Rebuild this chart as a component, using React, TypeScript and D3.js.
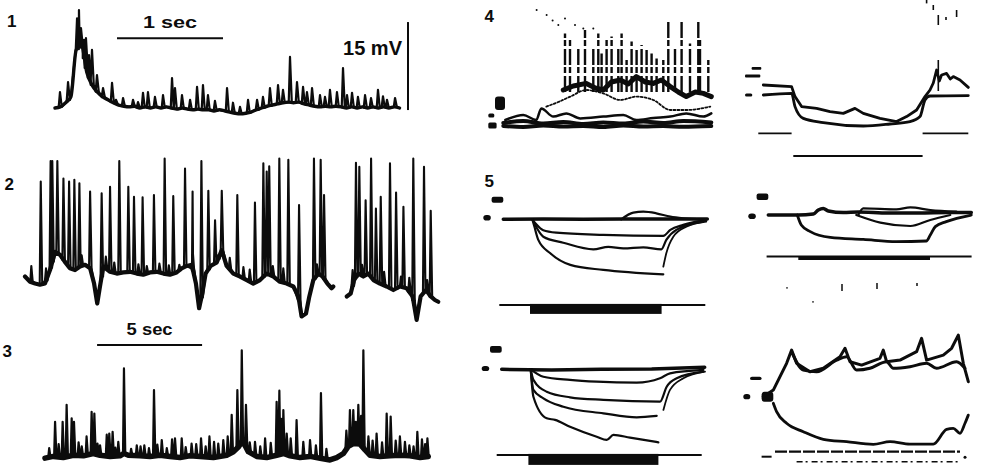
import React from 'react';
import * as d3 from 'd3';

type Pt = [number, number];

const INK = '#0c0c0c';
const FONT = '"Liberation Sans", Arial, Helvetica, sans-serif';

// ---------- trace 1 (1 sec / 15 mV), sampled every 50 ms, mV
const p1Dt = 0.05;
const p1Base = [
  0, 0.2, 0.9, 1.9, 9.9, 10.7, 6.1, 3.9, 2.7, 1.9,
  1.4, 0.9, 0.5, 0.3, 0.2, 0.3, 0, 0.2, 0, 0.2,
  0, 0.2, 0, -0.2, 0, -0.2, -0.3, -0.2, -0.3, -0.3,
  -0.5, -0.3, -0.5, -0.7, -0.9, -1.0, -0.9, -0.7, -0.3, 0,
  0.3, 0.5, 0.7, 0.9, 1.0, 0.9, 1.0, 0.7, 0.5, 0.3,
  0.2, 0.3, 0.2, 0.3, 0.2, 0, 0.2, 0, 0.2, 0,
  0.2, 0, 0.2, 0, 0.2, 0,
];
const p1SpikeT = [
  0.047, 0.123, 0.208, 0.226, 0.245, 0.274, 0.292, 0.321, 0.349, 0.396, 0.453, 0.538, 0.575,
  0.642, 0.736, 0.783, 0.83, 0.877, 0.943, 1.019, 1.104, 1.132, 1.198, 1.274, 1.34, 1.396,
  1.443, 1.509, 1.623, 1.679, 1.745, 1.821, 1.906, 1.962, 2.028, 2.104, 2.151, 2.217, 2.283,
  2.34, 2.377, 2.425, 2.5, 2.547, 2.594, 2.66, 2.717, 2.755, 2.802, 2.858, 2.925, 2.981,
  3.047, 3.094, 3.132, 3.208,
];
const p1SpikeV = [
  2.7, 4.4, 15.3, 16.7, 13.6, 11.6, 11.9, 9.0, 9.9, 5.6, 3.4, 4.3, 1.4,
  1.7, 1.4, 1.0, 2.6, 2.7, 1.9, 2.2, 5.1, 3.4, 2.2, 1.4, 3.6, 3.9,
  2.2, 1.2, 3.4, 0.9, 0.2, 1.4, 1.4, 1.9, 3.4, 3.9, 3.1, 8.7, 4.4,
  3.6, 2.7, 3.4, 2.2, 1.9, 3.1, 2.7, 6.8, 2.2, 2.6, 1.9, 2.2, 1.7,
  3.1, 2.0, 1.4, 1.7,
];

// ---------- trace 2, two records (s, mV)
const p2aT = [
  0, 0.24, 0.48, 0.71, 0.95, 1.19, 1.43, 1.67, 1.9, 2.14, 2.38, 2.62, 2.86, 3.1, 3.29,
  3.44, 3.57, 3.73, 4.05, 4.37, 4.68, 5.0, 5.32, 5.63, 5.95, 6.27, 6.59, 6.9, 7.22, 7.46,
  7.7, 7.94, 8.14, 8.29, 8.44, 8.6, 8.84, 9.13, 9.37, 9.6, 9.92, 10.24, 10.56, 10.87, 11.19,
  11.51, 11.83, 12.14, 12.46, 12.78, 13.02, 13.17, 13.38, 13.54, 13.73, 13.97, 14.17, 14.4, 14.6, 14.68,
];
const p2aV = [
  -0.6, -1.5, -1.8, -2.0, -1.8, 0.5, 3.6, 3.1, 1.9, 0.8, 0.5, 1.1, 1.4, 0.8, -1.8,
  -5.2, -2.3, 1.1, 0.2, -0.1, 0.1, 0.2, -0.1, -0.3, 0.1, 0.2, -0.1, -0.3, 0.1, 0.8,
  1.2, 1.4, -1.8, -6.0, -3.5, -0.1, 1.2, 1.8, 3.9, 1.2, -0.1, -0.6, -1.2, -1.8, -1.2,
  -0.1, -0.6, -1.5, -1.8, -2.3, -4.0, -7.4, -6.9, -4.0, -1.2, -0.1, -0.6, -1.8, -2.6, -2.3,
];
const p2bT = [15.32, 15.51, 15.67, 15.87, 16.11, 16.35, 16.59, 16.9, 17.22, 17.54, 17.86, 18.17, 18.46, 18.65, 18.84, 19.1, 19.32, 19.52, 19.68];
const p2bV = [-4.0, -3.5, -1.2, -0.1, -0.6, -0.1, -1.2, -1.8, -2.3, -2.9, -2.3, -2.6, -4.0, -8.0, -4.0, -2.9, -4.0, -4.6, -4.9];
const p2SpikeT = [
  0.75, 1.22, 1.3, 1.54, 1.83, 2.1, 2.35, 2.59, 3.1, 3.65, 4.05, 4.49, 4.92, 5.19, 5.6,
  6.14, 6.65, 7.06, 7.62, 7.98, 8.4, 8.73, 9.05, 9.37, 10.11, 10.95, 11.35, 11.51, 11.63, 12.11,
  12.54, 13.05, 13.76, 14.08, 14.24, 15.76, 15.92, 16.22, 16.48, 16.71, 16.94, 17.38, 17.67, 18.02, 18.49,
  19.0, 19.32,
];
const p2SpikeV = [
  15.6, 19.1, 19.1, 19.1, 16.1, 15.6, 15.9, 15.3, 13.9, 13.6, 14.7, 19.1, 14.7, 13.0, 12.9,
  13.3, 19.5, 13.1, 17.8, 13.9, 19.1, 14.0, 9.0, 14.0, 13.3, 12.0, 18.7, 17.3, 18.2, 19.5,
  19.3, 11.6, 19.5, 19.3, 13.3, 18.8, 18.1, 12.4, 19.5, 11.0, 13.0, 18.7, 13.7, 11.3, 19.5,
  18.1, 10.6,
];
// small deflections riding on trace 2
const p2SmallT = [0.3, 1.0, 2.7, 3.85, 4.25, 5.4, 5.8, 6.4, 6.85, 7.35, 8.0, 9.2, 9.75, 10.4, 10.7, 11.8, 12.3, 13.9, 15.6, 16.05, 17.1, 17.9, 18.3, 19.15];
const p2SmallV = [1.2, 0.8, 3.0, 2.8, 1.8, 1.5, 1.2, 1.6, 1.3, 1.4, 3.2, 3.0, 2.6, 1.0, 0.6, 1.2, 0.8, 1.5, 0.5, 1.4, 0.2, -0.6, -0.8, -1.2];

// ---------- trace 3 (5 sec)
const p3T = [
  0, 0.4, 0.87, 1.35, 1.83, 2.3, 2.62, 3.1, 3.57, 3.76, 3.97, 4.52, 5.0, 5.48, 5.95,
  6.43, 6.9, 7.38, 8.02, 8.65, 8.97, 9.21, 9.37, 9.52, 9.68, 10.08, 10.56, 11.03, 11.35, 11.67,
  12.14, 12.62, 13.1, 13.57, 13.89, 14.21, 14.44, 14.68, 15.0, 15.24, 15.48, 15.95, 16.43, 16.9, 17.38,
  17.86, 18.25,
];
const p3V = [
  -0.2, 0.1, -0.1, 0.3, 0.2, 0.6, 0.3, 0.1, 0.2, 0.6, 0.3, 0.2, 0.1, 0.3, 0.1,
  -0.1, 0.2, 0.1, -0.1, 0.3, 0.9, 1.7, 2.6, 2.0, 0.9, 0.1, -0.1, 0.3, 0.6, 0.2,
  -0.1, 0.1, -0.2, -0.5, -0.1, 0.6, 1.8, 2.3, 2.2, 1.2, 0.3, 0.1, 0.2, 0.3, 0.2,
  -0.1, 0.1,
];
const p3SpikeT = [
  0.48, 0.84, 1.03, 1.27, 1.38, 1.98, 2.22, 2.35, 2.62, 2.94, 3.06, 3.22, 3.49, 3.76, 4.37,
  4.73, 5.19, 5.56, 6.19, 6.51, 6.98, 7.43, 7.83, 8.25, 8.49, 8.89, 9.16, 9.37, 9.57, 10.0,
  10.48, 11.03, 11.16, 11.35, 11.51, 11.98, 12.62, 13.14, 14.52, 14.68, 14.92, 15.16, 15.79, 16.27, 16.46,
  16.9, 17.14, 17.73, 18.21,
];
const p3SpikeV = [
  6.0, 6.0, 8.9, 6.6, 6.0, 3.5, 7.7, 7.4, 2.0, 3.8, 4.0, 4.3, 2.6, 15.1, 2.0,
  2.0, 11.4, 2.9, 3.2, 3.2, 2.3, 3.2, 3.5, 2.3, 2.9, 7.2, 11.4, 18.2, 8.9, 2.6,
  3.2, 9.4, 11.3, 8.0, 4.0, 6.3, 2.9, 10.9, 8.0, 8.0, 8.9, 18.2, 4.0, 7.4, 6.9,
  3.5, 2.6, 4.3, 3.2,
];
const p3SmallT = [0.2, 0.65, 1.6, 1.75, 2.5, 3.35, 4.1, 4.55, 4.95, 5.35, 5.8, 6.05, 6.7, 7.2, 7.65, 8.05, 8.7, 9.75, 10.25, 10.75, 11.25, 11.7, 12.3, 12.9, 13.4, 14.35, 14.8, 15.05, 15.4, 15.6, 16.05, 16.7, 17.35, 17.55, 17.95, 18.1];
const p3SmallV = [1.5, 2.2, 2.5, 1.8, 2.3, 1.6, 1.4, 1.8, 1.5, 2.1, 1.5, 3.0, 1.7, 2.2, 1.8, 2.6, 3.5, 2.5, 1.8, 2.4, 6.5, 3.2, 2.6, 2.0, 1.4, 4.5, 6.0, 7.0, 3.5, 2.8, 2.5, 2.8, 2.0, 1.8, 3.0, 2.2];

// ---------- 4, left (ms, mV)
const p4lBotT = [0, 20, 40, 60, 80, 100, 120, 140, 160, 180, 208];
const p4lBotAV = [1.5, 2.5, 1.2, 2, 1, 1.8, 1.2, 2.2, 1.5, 2.5, 1.8];
const p4lBotBV = [0, -0.5, 0.2, -0.3, 0, -0.5, 0.3, -0.2, 0, -0.4, 0];
const p4lMidT = [2, 20, 33, 38, 50, 63, 77, 100, 120, 133, 150, 167, 183, 200, 208];
const p4lMidV = [3, 5.5, 3, 8.8, 4.7, 6.3, 3.8, 4.7, 5.5, 3, 4, 4.7, 6.3, 4.7, 6.3];
const p4lUpT = [43, 55, 67, 83, 100, 117, 133, 150, 167, 183, 207];
const p4lUpV = [9.7, 12, 14.7, 18, 16.3, 13, 14.7, 13, 8, 8, 9.7];
const p4lTopT = [60, 70, 83, 92, 100, 108, 117, 125, 133, 142, 150, 158, 167, 175, 183, 192, 200, 208];
const p4lTopV = [18, 20, 21.3, 19, 18, 22, 23, 21, 24.7, 22, 21.3, 23, 19.7, 17, 14.7, 17, 16.3, 14.7];
const p4lSpikeT = [61.7, 66.7, 75, 81.7, 90, 95, 98.3, 103.3, 108.3, 115, 118.3, 123.3, 128.3, 133.3, 138.3, 143.3, 148.3, 153.3, 160, 165, 171.7, 178.3, 186.7, 195, 196.7, 205];
const p4lSpikeV = [46.3, 43, 39.7, 48, 39.7, 46.3, 36.3, 43, 44.7, 39.7, 46.3, 33, 42.2, 38, 40.5, 38, 36.3, 33.8, 33, 53, 39.7, 52.2, 41.3, 52.2, 43, 33];
const p4lDotT = [33.3, 43.3, 49.3, 55, 61.7, 71.7, 80, 90];
const p4lDotV = [58, 55.5, 52.7, 50.5, 53.8, 50.5, 48.8, 48.8];

// ---------- 4, right
const p4rUpT = [0, 28.3, 31.7, 38.3, 53.3, 66.7, 80, 91.7, 100, 116.7, 133.3, 143.3, 153.3, 161.7, 166.7, 170, 173.3, 176, 178.3, 183.3, 187, 190, 196.7, 205];
const p4rUpV = [5, 4.2, -0.8, -5.8, -6.7, -8.3, -9.2, -6.7, -9.2, -11.7, -13.3, -10.8, -7.5, -0.8, 2.5, 6, 12.5, 7, 10, 10.8, 8, 9.2, 7.5, 3.8];
const p4rLowT = [0, 28.3, 31.7, 40, 60, 100, 126.7, 146.7, 156.7, 161.7, 166.7, 205];
const p4rLowV = [0, 0.8, -5.8, -11.7, -13.8, -15.5, -14.5, -13.3, -10.8, -2.5, -0.5, -0.3];
const p4rTickT = [163.3, 170, 175, 182.7, 193.3];
const p4rTickHi = [47.5, 45, 40, 39, 42.5];
const p4rTickLo = [45.8, 42.5, 35, 37.5, 39];

// ---------- 5, left
const p5lBaseT = [0, 40, 80, 120, 160, 204];
const p5lBaseV = [0, 0.2, 0, 0.2, 0.1, 0.2];
const p5lBumpT = [118, 130, 140, 153, 167, 180, 200];
const p5lBumpV = [0, 3.3, 3.8, 3.0, 1.3, 0.5, 0];
const p5lAT = [29, 33, 40, 53, 100, 160, 167, 180, 203];
const p5lAV = [0, -2.5, -5.5, -6.7, -7.8, -8.3, -5.3, -2.8, -0.3];
const p5lBT = [29, 32, 40, 60, 90, 105, 120, 140, 158, 163, 173, 200];
const p5lBV = [0, -3, -8.7, -11.7, -15, -13.8, -14.5, -14, -15, -10.3, -5.3, -1.2];
const p5lCT = [29, 31, 35, 47, 67, 100, 160];
const p5lCV = [0, -3.5, -10.3, -17, -22.8, -25.3, -27.5];
const p5lCRecT = [160, 163, 170, 183, 203];
const p5lCRecV = [-23.7, -17, -8.7, -3.7, -1.2];

// ---------- 5, right
const p5rBaseT = [0, 30, 45, 50, 55, 60, 75, 90, 120, 150, 180, 203];
const p5rBaseV = [0, 0, 0.5, 2.5, 3.3, 2.0, 1.2, 1.5, 1.0, 1.0, 1.2, 1.2];
const p5rHypT = [29, 33, 42, 62, 95, 128, 158, 162, 167, 178, 203];
const p5rHypV = [0, -5, -8.3, -11.2, -12.2, -13.3, -13, -10, -5.8, -3.3, 0];
const p5rMidT = [88, 112, 142, 162, 182];
const p5rMidV = [0, -3.8, -5.5, -2.5, 0];
const p5rUpT = [90, 95, 128, 142, 162, 188];
const p5rUpV = [0, 3.3, 2.8, 3.8, 2.5, 1.7];

// ---------- lower left
const p6lBaseT = [0, 50, 100, 150, 203];
const p6lBaseV = [0, -0.3, 0, 0.2, 1];
const p6lAT = [29, 41.7, 68.3, 95, 135, 158.3, 168.3, 201.7];
const p6lAV = [0, -3.7, -5.3, -6.2, -6.7, -4.5, -2, -0.3];
const p6lBT = [29, 31.7, 45, 68.3, 101.7, 158.3, 165, 175, 201.7];
const p6lBV = [0, -5.3, -11.2, -14, -15.3, -16.2, -8.7, -4.5, -1.2];
const p6lCT = [29, 31.7, 41.7, 61.7, 101.7, 135, 155];
const p6lCV = [0, -10.3, -14.5, -18.7, -22, -24, -23.3];
const p6lCRecT = [161.7, 168.3, 181.7, 203.3];
const p6lCRecV = [-20.3, -10.3, -4.5, -1.2];
const p6lDT = [29, 31.7, 45, 53.3, 68.3, 95, 105, 111.7, 128.3, 156.7];
const p6lDV = [0, -13.7, -24.5, -25.3, -28.7, -33.7, -35.3, -32.8, -34.2, -36.5];

// ---------- lower right
const p6rAT = [-10, 0, 6.7, 13.3, 18.3, 23.3, 36.7, 50, 66.7, 71.7, 76.7, 88.3, 106.7, 110, 113.3, 126.7, 143.3, 148.3, 153.3, 170, 178.3, 185, 190, 195];
const p6rAV = [0, 3.3, 10, 16.7, 23.3, 16.7, 12.5, 14.2, 20, 24.2, 17.5, 15.8, 19.2, 23.3, 17.5, 18.3, 22.5, 29.2, 18.3, 20.8, 24.2, 30.8, 16.7, 7.5];
const p6rBT = [18.3, 30, 43.3, 63.3, 73.3, 83.3, 96.7, 113.3, 120, 136.7, 153.3, 163.3, 183.3, 191.7];
const p6rBV = [22.5, 13.3, 12.5, 18.3, 20, 13.3, 14.2, 17.5, 14.2, 15, 16.7, 14.2, 17.5, 14.2];
const p6rLowT = [0, 3.3, 13.3, 30, 50, 73.3, 100, 116.7, 136.7, 160, 173.3, 180, 186.7, 191.7, 195];
const p6rLowV = [-3.3, -7.5, -13.3, -17.5, -21.3, -22.5, -23.8, -22.5, -23.7, -23.7, -16.3, -15.8, -18.3, -13.3, -9.2];
const p6rTickT = [68.7, 103.7, 143.7];
const p6rTickHi = [56.4, 56.9, 56.9];
const p6rTickLo = [52.9, 53.9, 55.4];

const zip = (t: number[], v: number[]): Pt[] => t.map((ti, i) => [ti, v[i]]);

function withSpikes(pts: Pt[], st: number[], sv: number[], hw: number): Pt[] {
  const base = d3.scaleLinear().domain(pts.map(p => p[0])).range(pts.map(p => p[1]));
  const lo = pts[0][0];
  const hi = pts[pts.length - 1][0];
  const out: Pt[] = pts.filter(p => !st.some(s => Math.abs(p[0] - s) < hw * 1.5));
  st.forEach((s, i) => {
    if (s < lo || s > hi) return;
    const b = base(s);
    out.push([s - hw, b], [s, Math.max(sv[i], b + 0.4)], [s + hw * 1.4, b]);
  });
  return out.sort((a, b) => a[0] - b[0]);
}

type Sc = d3.ScaleLinear<number, number>;

function Trace({ pts, xs, ys, w = 2, dash, curve }: { pts: Pt[]; xs: Sc; ys: Sc; w?: number; dash?: string; curve?: d3.CurveFactory }) {
  const gen = d3.line<Pt>().x(p => xs(p[0])).y(p => ys(p[1])).curve(curve ?? d3.curveLinear);
  return (
    <path d={gen(pts) ?? ''} fill="none" stroke={INK} strokeWidth={w}
      strokeLinejoin="round" strokeLinecap="round" strokeDasharray={dash} />
  );
}

function Blob({ xs, ys, t0, t1, v0, v1, r = 2 }: { xs: Sc; ys: Sc; t0: number; t1: number; v0: number; v1: number; r?: number }) {
  return <rect x={xs(t0)} y={ys(v0)} width={xs(t1) - xs(t0)} height={ys(v1) - ys(v0)} rx={r} fill={INK} />;
}

function panelScales(x0: number, y0: number) {
  return {
    xs: d3.scaleLinear().domain([0, 100]).range([x0, x0 + 100]),
    ys: d3.scaleLinear().domain([0, 10]).range([y0, y0 - 20]),
  };
}

const labelStyle = { fontFamily: FONT, fontWeight: 700, fontSize: 17, fill: INK } as const;

export default function App() {
  const x1 = d3.scaleLinear().domain([0, 1]).range([55, 161]);
  const y1 = d3.scaleLinear().domain([0, 15]).range([108, 20]);
  const x2 = d3.scaleLinear().domain([0, 5]).range([25, 130]);
  const y2 = d3.scaleLinear().domain([0, 15]).range([273, 185]);
  const x3 = d3.scaleLinear().domain([0, 5]).range([45, 150]);
  const y3 = d3.scaleLinear().domain([0, 15]).range([457, 369]);

  const p1 = p1Base.map((v, i) => [i * p1Dt, v] as Pt);
  const p2a = zip(p2aT, p2aV);
  const p2b = zip(p2bT, p2bV);
  const p2St = p2SpikeT.concat(p2SmallT);
  const p2Sv = p2SpikeV.concat(p2SmallV);
  const p3 = zip(p3T, p3V);
  const p3St = p3SpikeT.concat(p3SmallT);
  const p3Sv = p3SpikeV.concat(p3SmallV);

  const s4l = panelScales(503.3, 126);
  const s4r = panelScales(763.3, 95);
  const s5l = panelScales(503.3, 219.3);
  const s5r = panelScales(768.3, 215);
  const s6l = panelScales(501.7, 369.3);
  const s6r = panelScales(773.3, 396.7);
  const smooth = d3.curveMonotoneX;

  return (
    <svg width={993} height={470} viewBox="0 0 993 470"
      style={{ position: 'absolute', left: 0, top: 0, display: 'block', background: '#fff' }}>
      <rect width={993} height={470} fill="#fff" />

      {/* ---- record 1 ---- */}
      <text x={7} y={27} style={labelStyle}>1</text>
      <Trace pts={p1} xs={x1} ys={y1} w={3.4} curve={smooth} />
      <Trace pts={withSpikes(p1, p1SpikeT, p1SpikeV, 0.012)} xs={x1} ys={y1} w={2.2} />
      <line x1={x1(0.585)} x2={x1(1.585)} y1={y1(11.9)} y2={y1(11.9)} stroke={INK} strokeWidth={2} />
      <text x={x1(1.085)} y={28} textAnchor="middle" textLength={54} lengthAdjust="spacingAndGlyphs"
        style={{ ...labelStyle, fontSize: 16 }}>1 sec</text>
      <line x1={x1(3.33)} x2={x1(3.33)} y1={y1(-0.35)} y2={y1(14.65)} stroke={INK} strokeWidth={2} />
      <text x={402} y={55} textAnchor="end" textLength={59} lengthAdjust="spacingAndGlyphs"
        style={{ ...labelStyle, fontSize: 20 }}>15 mV</text>

      {/* ---- record 2 ---- */}
      <text x={4.5} y={190} style={labelStyle}>2</text>
      <Trace pts={p2a} xs={x2} ys={y2} w={4.2} />
      <Trace pts={p2b} xs={x2} ys={y2} w={4.2} />
      <Trace pts={withSpikes(p2a, p2St, p2Sv, 0.05)} xs={x2} ys={y2} w={2.1} />
      <Trace pts={withSpikes(p2b, p2St, p2Sv, 0.05)} xs={x2} ys={y2} w={2.1} />

      {/* ---- record 3 ---- */}
      <text x={2.5} y={357} style={labelStyle}>3</text>
      <line x1={x3(2.48)} x2={x3(7.48)} y1={y3(19.1)} y2={y3(19.1)} stroke={INK} strokeWidth={2} />
      <text x={x3(4.98)} y={335} textAnchor="middle" textLength={46} lengthAdjust="spacingAndGlyphs"
        style={{ ...labelStyle, fontSize: 16 }}>5 sec</text>
      <Trace pts={p3} xs={x3} ys={y3} w={5.5} />
      <Trace pts={withSpikes(p3, p3St, p3Sv, 0.045)} xs={x3} ys={y3} w={2.2} />

      {/* ---- 4 left ---- */}
      <text x={484.5} y={22} style={labelStyle}>4</text>
      <Blob {...s4l} t0={-8.3} t1={1.7} v0={14.7} v1={8} r={3} />
      <Blob {...s4l} t0={-15} t1={-9} v0={6.3} v1={4.3} r={1.5} />
      <Blob {...s4l} t0={-15} t1={-6.7} v0={1.7} v1={-1.2} r={1.5} />
      <Trace pts={zip(p4lBotT, p4lBotAV)} {...s4l} w={4} curve={smooth} />
      <Trace pts={zip(p4lBotT, p4lBotBV)} {...s4l} w={4} curve={smooth} />
      <Trace pts={zip(p4lMidT, p4lMidV)} {...s4l} w={2.5} curve={smooth} />
      <Trace pts={zip(p4lUpT, p4lUpV)} {...s4l} w={1.8} dash="2 2" curve={smooth} />
      <Trace pts={zip(p4lTopT, p4lTopV)} {...s4l} w={5} />
      {p4lSpikeT.map((t, i) => (
        <line key={`s4-${i}`} x1={s4l.xs(t)} x2={s4l.xs(t)} y1={s4l.ys(17)} y2={s4l.ys(p4lSpikeV[i])}
          stroke={INK} strokeWidth={2.4} strokeDasharray="16 3 6 2" />
      ))}
      {p4lDotT.map((t, i) => (
        <circle key={`d4-${i}`} cx={s4l.xs(t)} cy={s4l.ys(p4lDotV[i])} r={1} fill={INK} />
      ))}

      {/* ---- 4 right ---- */}
      <Blob {...s4r} t0={-18.3} t1={-3} v0={10.2} v1={8.8} r={1} />
      <Blob {...s4r} t0={-11.7} t1={-2} v0={14} v1={12.6} r={1} />
      <Blob {...s4r} t0={-18.3} t1={-11} v0={0.8} v1={-0.8} r={1.5} />
      <Trace pts={zip(p4rUpT, p4rUpV)} {...s4r} w={2.8} />
      <Trace pts={zip(p4rLowT, p4rLowV)} {...s4r} w={2.8} curve={smooth} />
      <line x1={s4r.xs(175)} x2={s4r.xs(175)} y1={s4r.ys(2)} y2={s4r.ys(17.5)} stroke={INK} strokeWidth={1.6} />
      {p4rTickT.map((t, i) => (
        <line key={`t4-${i}`} x1={s4r.xs(t)} x2={s4r.xs(t)} y1={s4r.ys(p4rTickHi[i])} y2={s4r.ys(p4rTickLo[i])}
          stroke={INK} strokeWidth={1.6} />
      ))}
      <line x1={s4r.xs(-5)} x2={s4r.xs(28.3)} y1={s4r.ys(-19.2)} y2={s4r.ys(-19.2)} stroke={INK} strokeWidth={1.8} />
      <line x1={s4r.xs(159.3)} x2={s4r.xs(205)} y1={s4r.ys(-19.2)} y2={s4r.ys(-19.2)} stroke={INK} strokeWidth={1.8} />
      <line x1={s4r.xs(30)} x2={s4r.xs(159.3)} y1={s4r.ys(-30.5)} y2={s4r.ys(-30.5)} stroke={INK} strokeWidth={1.8} />

      {/* ---- 5 left ---- */}
      <text x={484.5} y={187} style={labelStyle}>5</text>
      <Blob {...s5l} t0={-11.7} t1={0} v0={11.3} v1={8.3} r={2} />
      <Blob {...s5l} t0={-20} t1={-12.5} v0={2.2} v1={-0.6} r={3} />
      <Trace pts={zip(p5lBaseT, p5lBaseV)} {...s5l} w={3.5} />
      <Trace pts={zip(p5lBumpT, p5lBumpV)} {...s5l} w={2.2} curve={smooth} />
      <Trace pts={zip(p5lAT, p5lAV)} {...s5l} w={2.2} curve={smooth} />
      <Trace pts={zip(p5lBT, p5lBV)} {...s5l} w={2.2} curve={smooth} />
      <Trace pts={zip(p5lCT, p5lCV)} {...s5l} w={2.2} curve={smooth} />
      <Trace pts={zip(p5lCRecT, p5lCRecV)} {...s5l} w={1.8} curve={smooth} />
      <line x1={s5l.xs(-4)} x2={s5l.xs(202)} y1={s5l.ys(-42.8)} y2={s5l.ys(-42.8)} stroke={INK} strokeWidth={2} />
      <Blob {...s5l} t0={26.7} t1={158.3} v0={-42.3} v1={-47.3} r={0} />

      {/* ---- 5 right ---- */}
      <Blob {...s5r} t0={-11.7} t1={0} v0={10.8} v1={7.5} r={2} />
      <Blob {...s5r} t0={-20} t1={-12.5} v0={0.8} v1={-2} r={3} />
      <Trace pts={zip(p5rBaseT, p5rBaseV)} {...s5r} w={3.5} curve={smooth} />
      <Trace pts={zip(p5rHypT, p5rHypV)} {...s5r} w={2.8} curve={smooth} />
      <Trace pts={zip(p5rMidT, p5rMidV)} {...s5r} w={2.2} curve={smooth} />
      <Trace pts={zip(p5rUpT, p5rUpV)} {...s5r} w={2.2} curve={smooth} />
      <line x1={s5r.xs(-1.7)} x2={s5r.xs(203.3)} y1={s5r.ys(-20.8)} y2={s5r.ys(-20.8)} stroke={INK} strokeWidth={2} />
      <Blob {...s5r} t0={30} t1={161.7} v0={-20.5} v1={-22.5} r={0} />

      {/* ---- lower left ---- */}
      <Blob {...s6l} t0={-11.7} t1={0} v0={11.7} v1={8.3} r={2} />
      <Blob {...s6l} t0={-20} t1={-12.5} v0={1.7} v1={-0.9} r={3} />
      <Trace pts={zip(p6lBaseT, p6lBaseV)} {...s6l} w={3.5} />
      <Trace pts={zip(p6lAT, p6lAV)} {...s6l} w={2.2} curve={smooth} />
      <Trace pts={zip(p6lBT, p6lBV)} {...s6l} w={2.2} curve={smooth} />
      <Trace pts={zip(p6lCT, p6lCV)} {...s6l} w={2.2} curve={smooth} />
      <Trace pts={zip(p6lCRecT, p6lCRecV)} {...s6l} w={1.8} curve={smooth} />
      <Trace pts={zip(p6lDT, p6lDV)} {...s6l} w={2.2} curve={smooth} />
      <line x1={s6l.xs(-5)} x2={s6l.xs(200)} y1={s6l.ys(-42.8)} y2={s6l.ys(-42.8)} stroke={INK} strokeWidth={2} />
      <Blob {...s6l} t0={26.7} t1={156.7} v0={-42.3} v1={-47.8} r={0} />

      {/* ---- lower right ---- */}
      <Blob {...s6r} t0={-23.3} t1={-11.7} v0={10} v1={8.3} r={2} />
      <Blob {...s6r} t0={-30} t1={-23} v0={1.3} v1={-1.3} r={3} />
      <Blob {...s6r} t0={-11.7} t1={0} v0={2.5} v1={-2.5} r={3} />
      <Trace pts={zip(p6rAT, p6rAV)} {...s6r} w={3} />
      <Trace pts={zip(p6rBT, p6rBV)} {...s6r} w={3} curve={smooth} />
      <Trace pts={zip(p6rLowT, p6rLowV)} {...s6r} w={2.8} curve={smooth} />
      {p6rTickT.map((t, i) => (
        <line key={`t6-${i}`} x1={s6r.xs(t)} x2={s6r.xs(t)} y1={s6r.ys(p6rTickHi[i])} y2={s6r.ys(p6rTickLo[i])}
          stroke={INK} strokeWidth={1.5} />
      ))}
      <circle cx={s6r.xs(13.7)} cy={s6r.ys(54.4)} r={0.8} fill={INK} />
      <circle cx={s6r.xs(39.7)} cy={s6r.ys(47.4)} r={0.8} fill={INK} />
      <line x1={s6r.xs(1.7)} x2={s6r.xs(186.7)} y1={s6r.ys(-27.5)} y2={s6r.ys(-27.5)} stroke={INK} strokeWidth={2.2} strokeDasharray="12 2" />
      <line x1={s6r.xs(-11.7)} x2={s6r.xs(-1.7)} y1={s6r.ys(-30)} y2={s6r.ys(-30)} stroke={INK} strokeWidth={2} />
      <line x1={s6r.xs(23.3)} x2={s6r.xs(188.3)} y1={s6r.ys(-32.5)} y2={s6r.ys(-32.5)} stroke={INK} strokeWidth={1.4} strokeDasharray="6 3 2 4" />
      <circle cx={s6r.xs(191.7)} cy={s6r.ys(-30.3)} r={1.5} fill={INK} />
    </svg>
  );
}
